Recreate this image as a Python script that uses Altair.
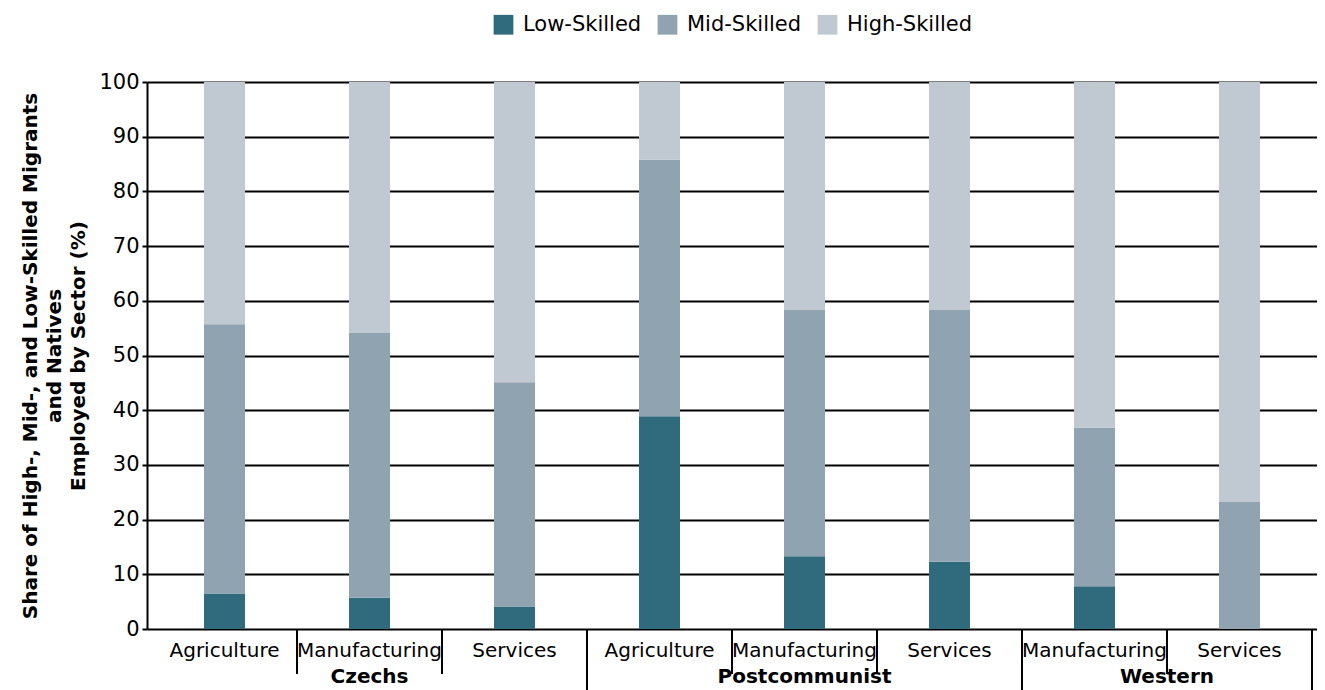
import altair as alt
import pandas as pd

# ---- data ----
groups = ["Czechs", "Czechs", "Czechs",
          "Postcommunist", "Postcommunist", "Postcommunist",
          "Western", "Western"]
sectors = ["Agriculture", "Manufacturing", "Services",
           "Agriculture", "Manufacturing", "Services",
           "Manufacturing", "Services"]
low_skilled = [6.5, 5.7, 4.1, 38.9, 13.3, 12.3, 7.8, 0.0]
mid_skilled = [49.2, 48.4, 41.0, 46.9, 45.0, 46.0, 29.0, 23.2]
high_skilled = [round(100 - l - m, 1) for l, m in zip(low_skilled, mid_skilled)]

levels = ["Low-Skilled", "Mid-Skilled", "High-Skilled"]
colors = ["#2f6a7d", "#8fa3b0", "#c0c8d2"]
y_ticks = [0, 10, 20, 30, 40, 50, 60, 70, 80, 90, 100]
y_title = ["Share of High-, Mid-, and Low-Skilled Migrants",
           "and Natives",
           "Employed by Sector (%)"]

FONT = "DejaVu Sans"
PAD_L, PAD_T = 139, 74
W, H = 1170, 547
n = len(sectors)

# ---- tables built from the lists ----
rows = []
for i in range(n):
    for k, (lvl, vals) in enumerate(zip(levels, [low_skilled, mid_skilled, high_skilled])):
        rows.append({"pos": i + 0.5, "level": lvl, "value": vals[i], "ord": k})
bars_df = pd.DataFrame(rows)

labels_df = pd.DataFrame({"pos": [i + 0.5 for i in range(n)], "sector": sectors})

sep_rows = []
for i in range(n):
    is_end = (i == n - 1) or (groups[i + 1] != groups[i])
    sep_rows.append({"pos": i + 1, "kind": "long" if is_end else "short"})
sep_df = pd.DataFrame(sep_rows)

grp_rows = []
for g in dict.fromkeys(groups):
    idx = [i for i, gg in enumerate(groups) if gg == g]
    grp_rows.append({"pos": (idx[0] + idx[-1] + 1) / 2, "group": g})
grp_df = pd.DataFrame(grp_rows)

xscale = alt.Scale(domain=[0, n], nice=False, zero=False)
yscale = alt.Scale(domain=[0, 100], nice=False)

bars = alt.Chart(bars_df).mark_bar(size=41).encode(
    x=alt.X("pos:Q", scale=xscale, axis=None),
    y=alt.Y("value:Q", stack="zero", scale=yscale,
            axis=alt.Axis(values=y_ticks, title=y_title, grid=True,
                          gridColor="#000000", gridWidth=2, gridOpacity=1,
                          domainColor="#000000", domainWidth=2,
                          tickColor="#000000", tickWidth=2, tickSize=5,
                          labelFont=FONT, labelFontSize=21, labelColor="#000000",
                          labelPadding=3,
                          titleFont=FONT, titleFontSize=20, titleFontWeight="bold",
                          titleColor="#000000", titleLineHeight=24,
                          titleAngle=270, titleAlign="center", titleBaseline="middle",
                          titleX=30 - (PAD_L + 8), titleY=H / 2)),
    color=alt.Color("level:N", scale=alt.Scale(domain=levels, range=colors),
                    legend=alt.Legend(title=None, orient="none", direction="horizontal",
                                      legendX=493 - (PAD_L + 8), legendY=-68,
                                      symbolType="square", symbolSize=390,
                                      symbolStrokeWidth=0, symbolOpacity=1,
                                      labelFont=FONT, labelFontSize=21,
                                      labelColor="#000000", labelOffset=9,
                                      columnPadding=15)),
    order=alt.Order("ord:Q"),
)

seps_short = alt.Chart(sep_df).transform_filter(alt.datum.kind == "short").mark_rule(
    color="#000000", strokeWidth=2).encode(
    x=alt.X("pos:Q", scale=xscale, axis=None),
    y=alt.datum(0),
    y2=alt.value(H + 45),
)
seps_long = alt.Chart(sep_df).transform_filter(alt.datum.kind == "long").mark_rule(
    color="#000000", strokeWidth=2).encode(
    x=alt.X("pos:Q", scale=xscale, axis=None),
    y=alt.datum(0),
    y2=alt.value(H + 80),
)

sector_text = alt.Chart(labels_df).mark_text(
    font=FONT, fontSize=20, color="#000000", baseline="middle", dy=22).encode(
    x=alt.X("pos:Q", scale=xscale, axis=None),
    y=alt.datum(0),
    text="sector:N",
)
group_text = alt.Chart(grp_df).mark_text(
    font=FONT, fontSize=20, fontWeight="bold", color="#000000",
    baseline="middle", dy=48).encode(
    x=alt.X("pos:Q", scale=xscale, axis=None),
    y=alt.datum(0),
    text="group:N",
)

chart = alt.layer(bars, seps_short, seps_long, sector_text, group_text).properties(
    width=W, height=H,
    autosize=alt.AutoSizeParams(type="none"),
    padding={"left": PAD_L, "top": PAD_T, "right": 0, "bottom": 61},
).configure_view(stroke=None)

chart.save("out.html", embed_options={"renderer": "svg", "actions": False})
